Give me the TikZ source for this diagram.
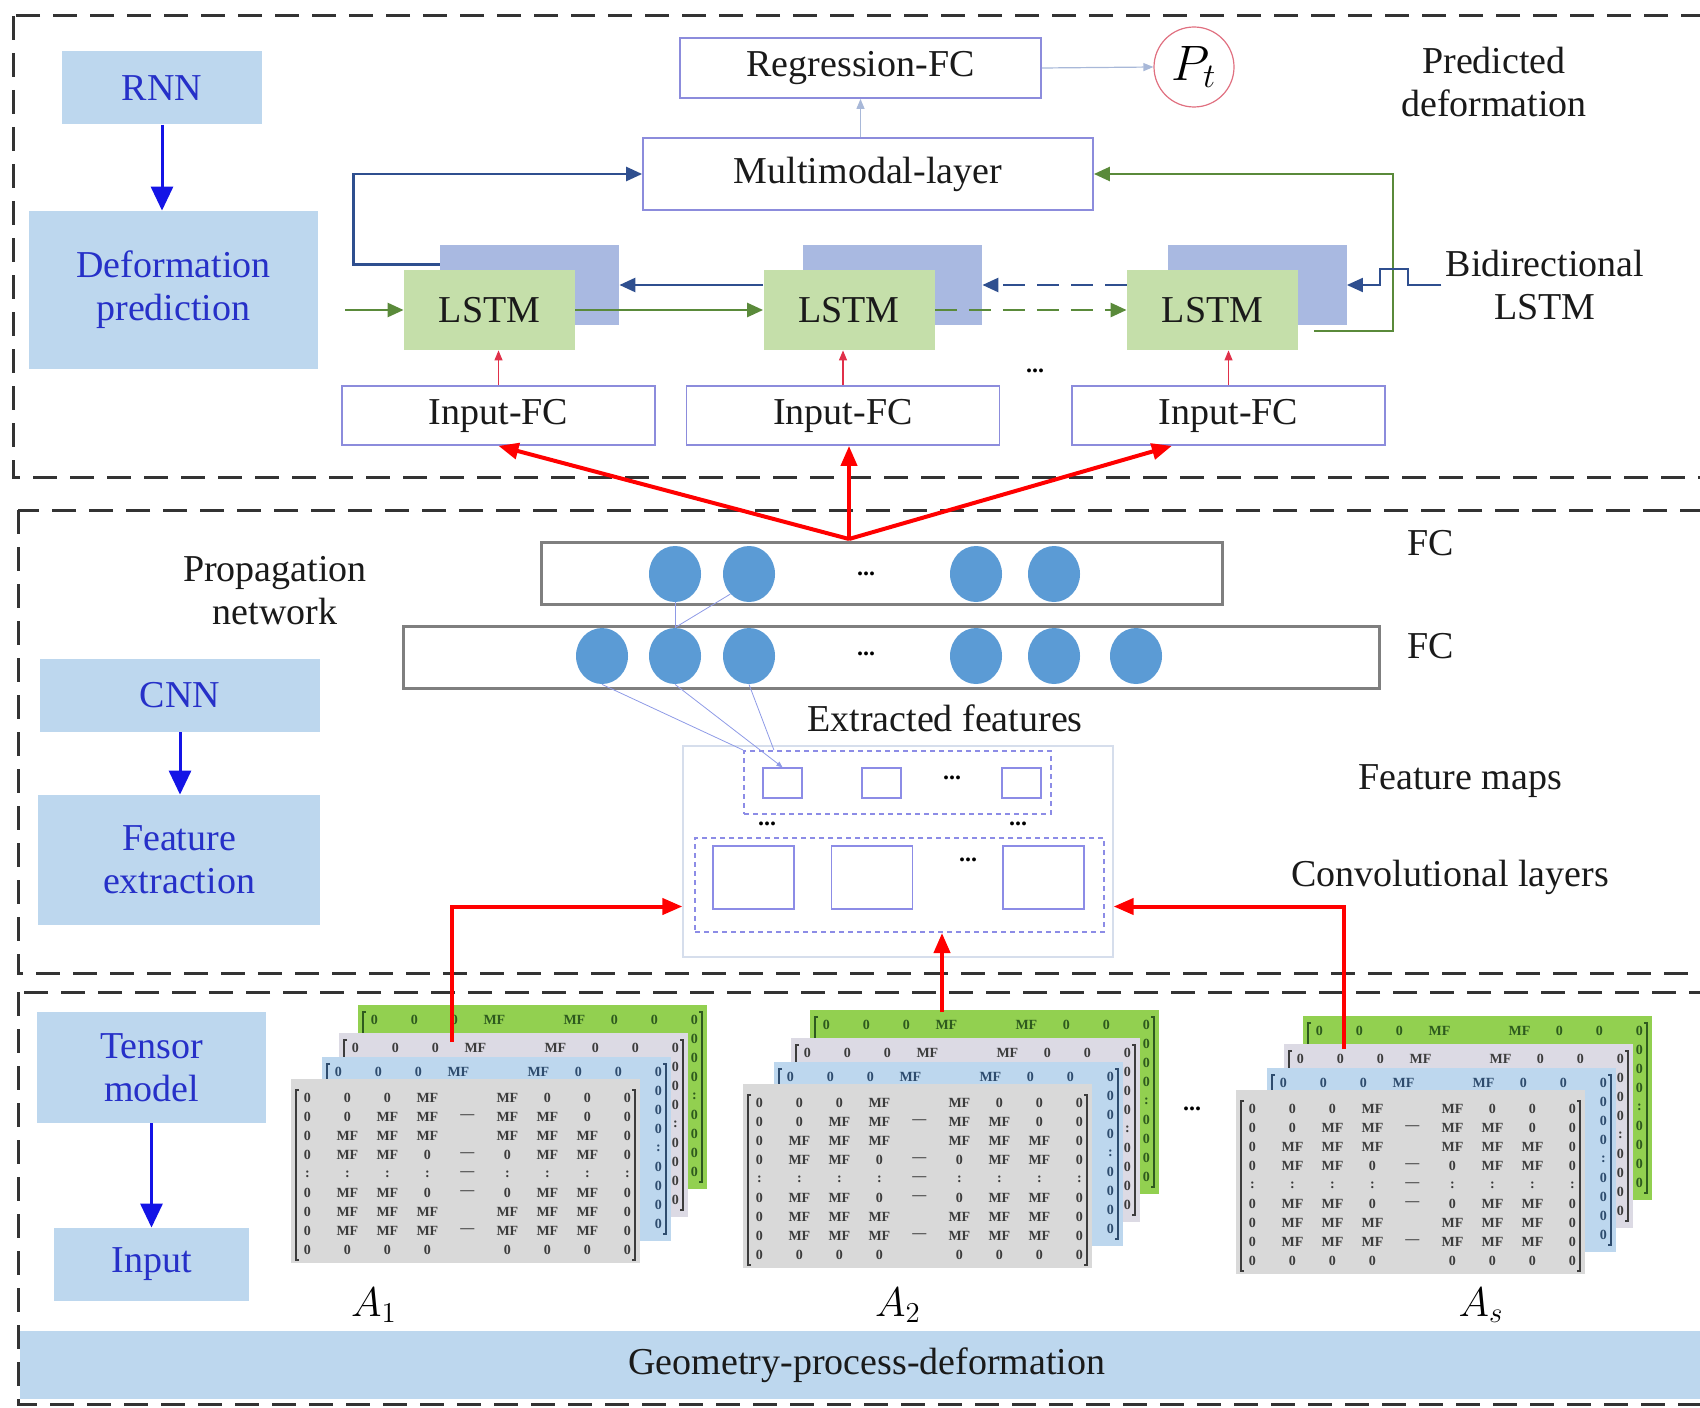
\documentclass[tikz,border=0pt]{standalone}
\usepackage{fontspec}
\setmainfont{Liberation Serif}
\usetikzlibrary{arrows.meta,calc,positioning,shapes.geometric,matrix}

\definecolor{sideblue}{HTML}{BDD7EE}
\definecolor{sidetext}{HTML}{2630C8}
\definecolor{arrowblue}{HTML}{1414E6}
\definecolor{framegray}{HTML}{333333}
\definecolor{fcline}{HTML}{8C8CDC}
\definecolor{lstmfront}{HTML}{C5DFAA}
\definecolor{lstmback}{HTML}{A9B9E1}
\definecolor{fwdgreen}{HTML}{5A8A3A}
\definecolor{bwdblue}{HTML}{2F4F8F}
\definecolor{feedred}{HTML}{E0304A}
\definecolor{ptred}{HTML}{E07080}
\definecolor{paleline}{HTML}{A8B8D8}
\definecolor{bargray}{HTML}{7F7F7F}
\definecolor{neuronblue}{HTML}{5B9BD5}
\definecolor{linkblue}{HTML}{8E9AE6}
\definecolor{fmapblue}{HTML}{8C8CE6}
\definecolor{convframe}{HTML}{D6DEEC}
\definecolor{layergreen}{HTML}{92D050}
\definecolor{layerlilac}{HTML}{DCDAE4}
\definecolor{layerblue}{HTML}{BDD7EE}
\definecolor{layergray}{HTML}{D9D9D9}
\definecolor{matgray}{HTML}{3C3C3C}
\definecolor{matblue}{HTML}{2E4C6E}
\definecolor{matgreen}{HTML}{2E5A1E}
\definecolor{textdark}{HTML}{1A1A1A}

\newcommand{\lblfont}{\fontsize{19}{21.5}\selectfont}
\newcommand{\matfont}{\fontsize{7}{7}\selectfont\bfseries}

% one stack of tensor slices: front top-left x, y, name, label, label x
\newcommand{\tensorstack}[5]{%
  % back slices: only their top row and right column show
  \foreach \dx/\dy/\lc/\mc/\ln in {67/-74/layergreen/matgreen/4,
      48/-46/layerlilac/matgray/3, 31/-22/layerblue/matblue/2}{
    \fill[\lc] (#1+\dx,#2+\dy) rectangle ++(349,184);
    \matrix[tensormat, text=\mc, anchor=north west] (#3-\ln) at (#1+\dx-4,#2+\dy+5) {
      0 \& 0 \& 0 \& MF \& {} \& MF \& 0 \& 0 \& 0 \\
    };
    \matrix[tensormat, text=\mc, anchor=north west] (#3-\ln-col) at (#1+\dx+316,#2+\dy+24) {
      0 \\ 0 \\ 0 \\ : \\ 0 \\ 0 \\ 0 \\ 0 \\
    };
    \draw[\mc, line width=0.8pt] (#1+\dx+8,#2+\dy+7) -- ++(-3,0) -- ++(0,170) -- ++(3,0);
    \draw[\mc, line width=0.8pt] (#1+\dx+341,#2+\dy+7) -- ++(3,0) -- ++(0,170) -- ++(-3,0);
  }
  % front slice
  \fill[layergray] (#1,#2) rectangle ++(349,184);
  \matrix[tensormat, text=matgray, anchor=north west] (#3-1) at (#1-4,#2+9) {
    0 \& 0 \& 0 \& MF \& {} \& MF \& 0 \& 0 \& 0 \\
    0 \& 0 \& MF \& MF \& --- \& MF \& MF \& 0 \& 0 \\
    0 \& MF \& MF \& MF \& {} \& MF \& MF \& MF \& 0 \\
    0 \& MF \& MF \& 0 \& --- \& 0 \& MF \& MF \& 0 \\
    : \& : \& : \& : \& --- \& : \& : \& : \& : \\
    0 \& MF \& MF \& 0 \& --- \& 0 \& MF \& MF \& 0 \\
    0 \& MF \& MF \& MF \& {} \& MF \& MF \& MF \& 0 \\
    0 \& MF \& MF \& MF \& --- \& MF \& MF \& MF \& 0 \\
    0 \& 0 \& 0 \& 0 \& {} \& 0 \& 0 \& 0 \& 0 \\
  };
  \draw[matgray, line width=0.8pt] (#1+8,#2+11) -- ++(-3,0) -- ++(0,170) -- ++(3,0);
  \draw[matgray, line width=0.8pt] (#1+341,#2+11) -- ++(3,0) -- ++(0,170) -- ++(-3,0);
  \node[stacklabel] (#3) at (#5,1305) {#4};
}

\begin{document}
\begin{tikzpicture}[x=0.5pt, y=-0.5pt,
  caption/.style={font=\lblfont, text=textdark, align=center, inner sep=2pt},
  sidebox/.style={fill=sideblue, text=sidetext, font=\lblfont, align=center, inner sep=0pt},
  down/.style={-{Triangle[length=12pt,width=11pt]}, line width=1.5pt, arrowblue},
  section/.style={draw=framegray, line width=1.5pt, dash pattern=on 12pt off 6.5pt},
  fcbox/.style={draw=fcline, line width=0.9pt, fill=white, font=\lblfont, text=textdark, inner sep=0pt},
  lstmb/.style={fill=lstmback, inner sep=0pt, minimum width=89.5pt, minimum height=40pt},
  lstmf/.style={fill=lstmfront, font=\lblfont, text=textdark, inner sep=0pt,
                minimum width=85.5pt, minimum height=40pt},
  fwd/.style={-{Triangle[length=8pt,width=7pt]}, line width=1.3pt, fwdgreen},
  bwd/.style={-{Triangle[length=8pt,width=7pt]}, line width=1.3pt, bwdblue},
  feed/.style={-{Triangle[length=5pt,width=4pt]}, line width=0.6pt, feedred},
  fan/.style={-{Triangle[length=10pt,width=8pt]}, line width=2pt, red},
  fcbar/.style={draw=bargray, line width=1.5pt, fill=white, inner sep=0pt, minimum height=31pt},
  neuron/.style={ellipse, fill=neuronblue, inner sep=0pt, minimum width=26pt, minimum height=28pt},
  link/.style={draw=linkblue, line width=0.4pt},
  fmap/.style={draw=fmapblue, line width=0.7pt, inner sep=0pt},
  fmgroup/.style={draw=fmapblue, line width=1pt, dash pattern=on 2.5pt off 2pt, inner sep=0pt},
  ellip/.style={font=\fontsize{12}{12}\selectfont\bfseries, inner sep=0pt},
  tensormat/.style={matrix of nodes, ampersand replacement=\&, inner sep=0pt,
                    column sep=0pt, row sep=0pt,
                    nodes={font=\matfont, inner sep=0pt, minimum width=20pt,
                           minimum height=9.5pt, anchor=center}},
  stacklabel/.style={font=\fontsize{22}{22}\selectfont, inner sep=0pt}
]
  \useasboundingbox (0,0) rectangle (1700,1407);
  \clip (0,0) rectangle (1700,1407);

  % Dashed frames of the three stages.
  \draw[section] (13,16) rectangle (1730,477);
  \draw[section] (18,510) rectangle (1730,973);
  \draw[section] (18,992) rectangle (1730,1404);

  % Stage labels on the left.
  \node[sidebox, minimum width=100pt, minimum height=36.5pt] (rnn) at (162,88) {RNN};
  \node[sidebox, minimum width=144.5pt, minimum height=79pt] (defpred) at (173.5,290)
    {Deformation\\prediction};
  \node[sidebox, minimum width=140pt, minimum height=36.5pt] (cnn) at (180,695.5) {CNN};
  \node[sidebox, minimum width=141pt, minimum height=65pt] (featex) at (179,860)
    {Feature\\extraction};
  \node[sidebox, minimum width=114.5pt, minimum height=55.5pt] (tensor) at (151.5,1067.5)
    {Tensor\\model};
  \node[sidebox, minimum width=97.5pt, minimum height=36.5pt] (input) at (151.5,1264.5) {Input};
  \draw[down] (rnn.south) -- (rnn.south |- defpred.north);
  \draw[down] (cnn.south) -- (cnn.south |- featex.north);
  \draw[down] (tensor.south) -- (tensor.south |- input.north);

  % Prediction stage.
  \node[fcbox, minimum width=180.5pt, minimum height=30pt] (regfc) at (860.5,68) {Regression-FC};
  \node[circle, draw=ptred, line width=0.6pt, minimum size=40pt, inner sep=0pt,
        font=\fontsize{24}{24}\selectfont] (pt) at (1194,67) {$P_t$};
  \node[fcbox, minimum width=225pt, minimum height=36pt] (multi) at (868,174) {Multimodal-layer};
  \node[caption] (predicted) at (1494,82) {Predicted\\deformation};
  \node[caption] (bidir) at (1545,285) {Bidirectional\\LSTM};
  \draw[-{Triangle[length=5pt,width=4pt]}, line width=0.6pt, paleline] (regfc.east) -- (pt.west);
  \draw[-{Triangle[length=5pt,width=4pt]}, line width=0.6pt, paleline]
    (multi.north -| regfc.south) -- (regfc.south);

  \node[lstmb] (lstmb1) at (529.5,285) {};
  \node[lstmb] (lstmb2) at (892.5,285) {};
  \node[lstmb] (lstmb3) at (1257,285) {};
  \node[lstmf] (lstmf1) at (489.5,310) {LSTM};
  \node[lstmf] (lstmf2) at (849,310) {LSTM};
  \node[lstmf] (lstmf3) at (1212.5,310) {LSTM};

  \node[fcbox, minimum width=156.5pt, minimum height=29.5pt] (in1) at (498.5,415.5) {Input-FC};
  \node[fcbox, minimum width=156.5pt, minimum height=29.5pt] (in2) at (843,415.5) {Input-FC};
  \node[fcbox, minimum width=156.5pt, minimum height=29.5pt] (in3) at (1228.5,415.5) {Input-FC};
  \node[ellip] (dots-in) at (1035,371) {...};
  \draw[feed] (in1.north) -- (in1.north |- lstmf1.south);
  \draw[feed] (in2.north) -- (in2.north |- lstmf2.south);
  \draw[feed] (in3.north) -- (in3.north |- lstmf3.south);

  \coordinate (gin) at (345,310);
  \coordinate (gout) at (1314,331);
  \draw[fwd] (gin) -- (lstmf1.west);
  \draw[fwd] (lstmf1.east) -- (lstmf2.west);
  \draw[fwd, dash pattern=on 11pt off 6pt] (lstmf2.east) -- (lstmf3.west);
  \draw[fwd] (gout) -- ++(79,0) |- (multi.east);
  \draw[bwd] ($(lstmb1.north west)+(0,20)$) -- ++(-86,0) |- (multi.west);
  \draw[bwd] (lstmf2.west |- lstmb1.east) -- (lstmb1.east);
  \draw[bwd, dash pattern=on 11pt off 6pt] (lstmf3.west |- lstmb2.east) -- (lstmb2.east);
  \draw[bwd, line width=1pt] (bidir.west) -- (1408,285) -- (1408,269) -- (1380,269)
    -- (1380,285) -- (lstmb3.east);

  % Propagation network.
  \node[fcbar, minimum width=340.5pt] (fctop) at (881.5,573) {};
  \node[fcbar, minimum width=488pt] (fcbot) at (891,657) {};
  \foreach \x [count=\i] in {675,749,976,1054}
    \node[neuron] (nt\i) at (\x,574) {};
  \foreach \x [count=\i] in {602,675,749,976,1054,1136}
    \node[neuron] (nb\i) at (\x,656) {};
  \node[ellip] (dots-top) at (866,574) {...};
  \node[ellip] (dots-bot) at (866,654) {...};
  \node[caption] (fc1) at (1431,543) {FC};
  \node[caption] (fc2) at (1431,646) {FC};
  \node[caption] (propnet) at (275,591) {Propagation\\network};
  \draw[link] (nt1.south) -- (nb2.north);
  \draw[link] (nt2.south west) -- (nb2.north);

  \coordinate (fanroot) at (849,539);
  \draw[fan] (fanroot) -- (in1.south);
  \draw[fan] (fanroot) -- (in2.south -| fanroot);
  \draw[fan] (fanroot) -- ($(in3.south west)!.32!(in3.south east)$);

  % Convolutional part.
  \node[caption] (extracted) at (945,718) {Extracted features};
  \node[draw=convframe, line width=0.6pt, minimum width=215pt, minimum height=105.5pt,
        inner sep=0pt] (convarea) at (898,851.5) {};
  \node[fmgroup, minimum width=153.5pt, minimum height=31.5pt] (fmtop) at (897.5,782.5) {};
  \node[fmap, minimum width=19.5pt, minimum height=15pt] (fm1) at (782.5,783) {};
  \node[fmap, minimum width=19.5pt, minimum height=15pt] (fm2) at (881.5,783) {};
  \node[fmap, minimum width=19.5pt, minimum height=15pt] (fm3) at (1021.5,783) {};
  \node[ellip] (dots-fm) at (952,778) {...};
  \node[ellip] (dots-l) at (767,824) {...};
  \node[ellip] (dots-r) at (1018,824) {...};
  \node[fmgroup, minimum width=204.5pt, minimum height=47pt] (fmbot) at (899.5,885) {};
  \node[fmap, minimum width=40.5pt, minimum height=31.5pt] (cv1) at (753.5,877.5) {};
  \node[fmap, minimum width=40.5pt, minimum height=31.5pt] (cv2) at (872,877.5) {};
  \node[fmap, minimum width=40.5pt, minimum height=31.5pt] (cv3) at (1043.5,877.5) {};
  \node[ellip] (dots-cv) at (968,860) {...};
  \node[caption] (featmaps) at (1460,781) {Feature maps};
  \node[caption] (convlayers) at (1450,877) {Convolutional layers};
  \draw[link] (nb1.south) -- (fmtop.north west);
  \draw[link, -{Triangle[length=3pt,width=2.5pt]}] (nb2.south) -- (fm1.north);
  \draw[link] (nb3.south) -- ($(fmtop.north west)!.1!(fmtop.north east)$);

  % Tensor input.
  \tensorstack{291}{1079}{a1}{$A_{1}$}{374}
  \tensorstack{743}{1084}{a2}{$A_{2}$}{898}
  \tensorstack{1236}{1090}{as}{$A_{s}$}{1481}
  \node[ellip] (dots-a) at (1192,1109) {...};

  \coordinate (a1in) at (452,1042);
  \coordinate (a2in) at (942,1012);
  \coordinate (a3in) at (1344,1049);
  \draw[fan] (a1in) |- ($(convarea.west)+(0,55)$);
  \draw[fan] (a2in) -- (a2in |- fmbot.south);
  \draw[fan] (a3in) |- ($(convarea.east)+(0,55)$);

  \node[fill=sideblue, minimum width=855pt, minimum height=34pt, inner sep=0pt] (geobar)
    at (875,1365) {};
  \node[font=\lblfont, text=textdark] (geotext) at (867,1365) {Geometry-process-deformation};
\end{tikzpicture}
\end{document}
